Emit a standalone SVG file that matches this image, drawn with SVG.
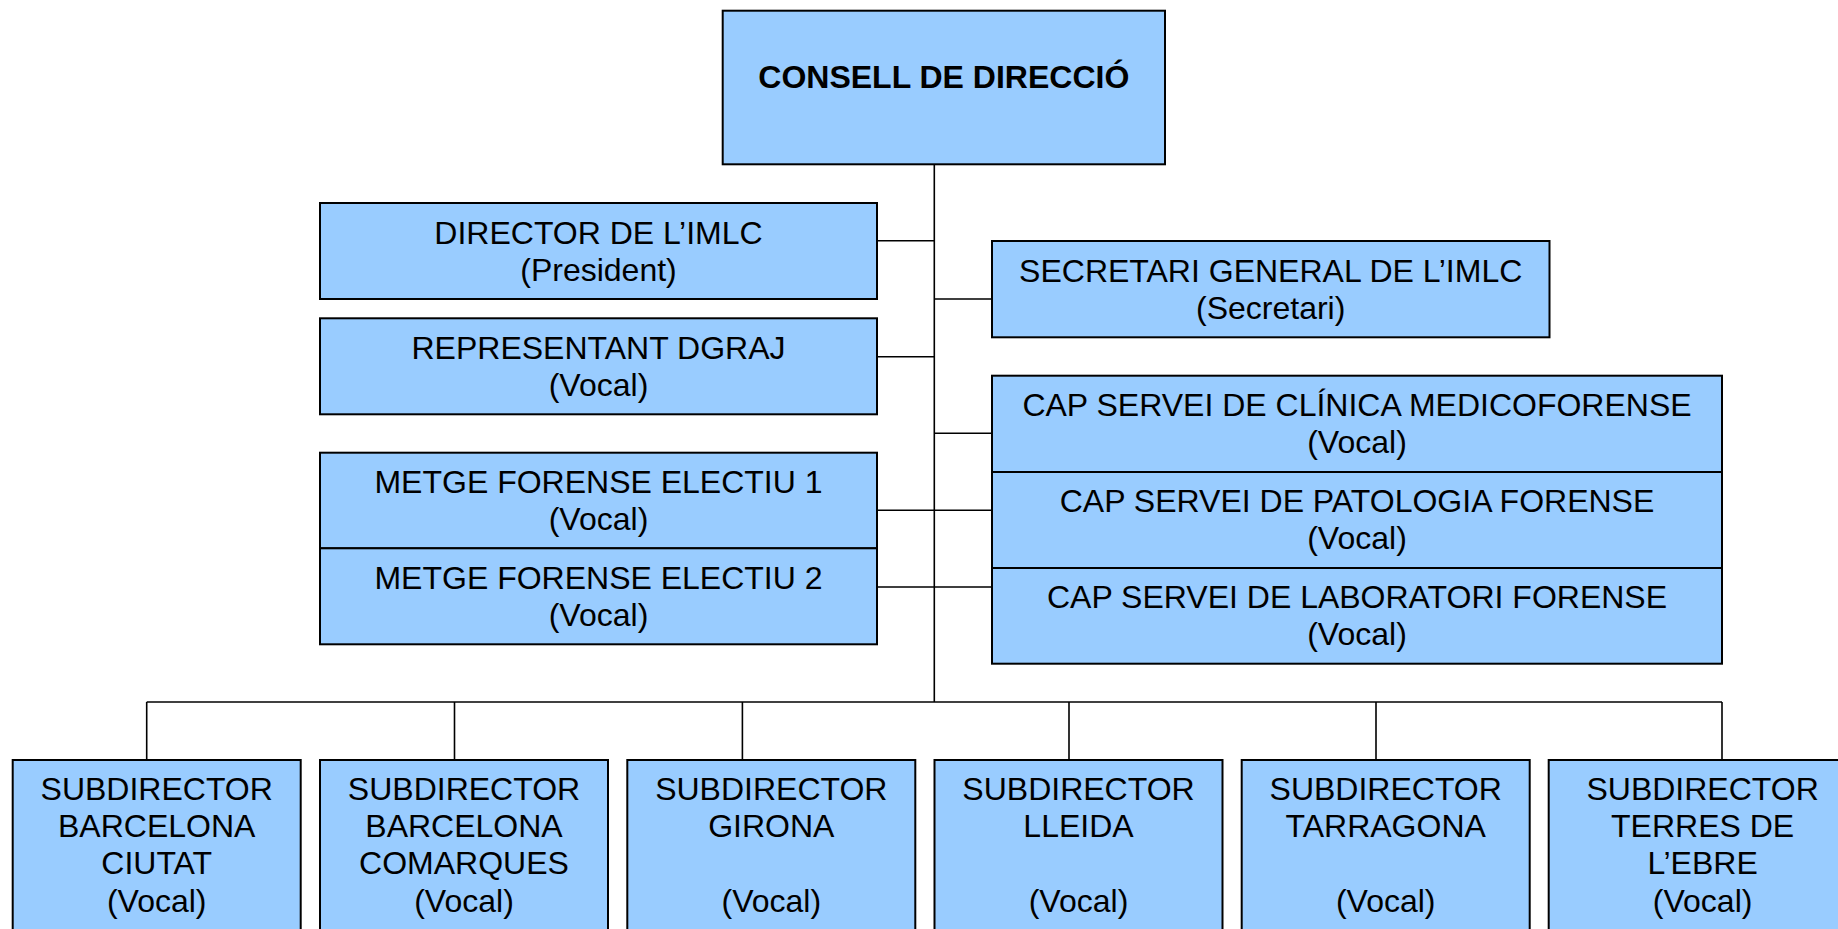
<svg xmlns="http://www.w3.org/2000/svg" width="1838" height="929" viewBox="0 0 1838 929">
<style>
.box{fill:#99CCFF;stroke:#000;stroke-width:2}
.t{font-family:"Liberation Sans",Arial,sans-serif;font-size:32px;fill:#000;text-anchor:middle}
.b{font-weight:bold}
.c{stroke:#000;stroke-width:1.6;fill:none}
</style>
<rect width="1838" height="929" fill="#fff"/>
<g id="connectors">
<path class="c" d="M934.3,164.3V702"/>
<path class="c" d="M877,240.7H934.3M934.3,299H992M877,356.7H934.3M934.3,433.3H992M877,510.3H992M877,587H992"/>
<path class="c" d="M146.7,702H1722"/>
<path class="c" d="M146.7,702V760M454.5,702V760M742.4,702V760M1069,702V760M1376,702V760M1722,702V760"/>
</g>
<g id="consell">
<rect class="box" x="722.7" y="10.7" width="442.3" height="153.6"/>
<text class="t b" x="943.8" y="88.3">CONSELL DE DIRECCIÓ</text>
</g>
<g id="director">
<rect class="box" x="320" y="203" width="557" height="96"/>
<text class="t" x="598.5" y="244">DIRECTOR DE L’IMLC</text>
<text class="t" x="598.5" y="281">(President)</text>
</g>
<g id="representant">
<rect class="box" x="320" y="318.3" width="557" height="96"/>
<text class="t" x="598.5" y="359">REPRESENTANT DGRAJ</text>
<text class="t" x="598.5" y="396">(Vocal)</text>
</g>
<g id="metge1">
<rect class="box" x="320" y="452.7" width="557" height="95.6"/>
<text class="t" x="598.5" y="493">METGE FORENSE ELECTIU 1</text>
<text class="t" x="598.5" y="530">(Vocal)</text>
</g>
<g id="metge2">
<rect class="box" x="320" y="548.3" width="557" height="96"/>
<text class="t" x="598.5" y="588.5">METGE FORENSE ELECTIU 2</text>
<text class="t" x="598.5" y="625.5">(Vocal)</text>
</g>
<g id="secretari">
<rect class="box" x="992" y="241" width="557.5" height="96.3"/>
<text class="t" x="1270.7" y="282">SECRETARI GENERAL DE L’IMLC</text>
<text class="t" x="1270.7" y="319">(Secretari)</text>
</g>
<g id="cap-clinica">
<rect class="box" x="992" y="375.7" width="730" height="96.3"/>
<text class="t" x="1357" y="415.5">CAP SERVEI DE CLÍNICA MEDICOFORENSE</text>
<text class="t" x="1357" y="452.5">(Vocal)</text>
</g>
<g id="cap-patologia">
<rect class="box" x="992" y="472" width="730" height="96"/>
<text class="t" x="1357" y="511.5">CAP SERVEI DE PATOLOGIA FORENSE</text>
<text class="t" x="1357" y="548.5">(Vocal)</text>
</g>
<g id="cap-laboratori">
<rect class="box" x="992" y="568" width="730" height="95.7"/>
<text class="t" x="1357" y="607.5">CAP SERVEI DE LABORATORI FORENSE</text>
<text class="t" x="1357" y="644.5">(Vocal)</text>
</g>
<g id="sub-bcn-ciutat">
<rect class="box" x="12.7" y="760" width="288" height="190"/>
<text class="t" x="156.7" y="799.5">SUBDIRECTOR</text>
<text class="t" x="156.7" y="837">BARCELONA</text>
<text class="t" x="156.7" y="874.3">CIUTAT</text>
<text class="t" x="156.7" y="911.5">(Vocal)</text>
</g>
<g id="sub-bcn-comarques">
<rect class="box" x="320" y="760" width="288" height="190"/>
<text class="t" x="464" y="799.5">SUBDIRECTOR</text>
<text class="t" x="464" y="837">BARCELONA</text>
<text class="t" x="464" y="874.3">COMARQUES</text>
<text class="t" x="464" y="911.5">(Vocal)</text>
</g>
<g id="sub-girona">
<rect class="box" x="627.3" y="760" width="288" height="190"/>
<text class="t" x="771.3" y="799.5">SUBDIRECTOR</text>
<text class="t" x="771.3" y="837">GIRONA</text>
<text class="t" x="771.3" y="911.5">(Vocal)</text>
</g>
<g id="sub-lleida">
<rect class="box" x="934.5" y="760" width="288" height="190"/>
<text class="t" x="1078.5" y="799.5">SUBDIRECTOR</text>
<text class="t" x="1078.5" y="837">LLEIDA</text>
<text class="t" x="1078.5" y="911.5">(Vocal)</text>
</g>
<g id="sub-tarragona">
<rect class="box" x="1241.7" y="760" width="288" height="190"/>
<text class="t" x="1385.7" y="799.5">SUBDIRECTOR</text>
<text class="t" x="1385.7" y="837">TARRAGONA</text>
<text class="t" x="1385.7" y="911.5">(Vocal)</text>
</g>
<g id="sub-terres-ebre">
<rect class="box" x="1548.7" y="760" width="308" height="190"/>
<text class="t" x="1702.6" y="799.5">SUBDIRECTOR</text>
<text class="t" x="1702.6" y="837">TERRES DE</text>
<text class="t" x="1702.6" y="874.3">L’EBRE</text>
<text class="t" x="1702.6" y="911.5">(Vocal)</text>
</g>
</svg>
